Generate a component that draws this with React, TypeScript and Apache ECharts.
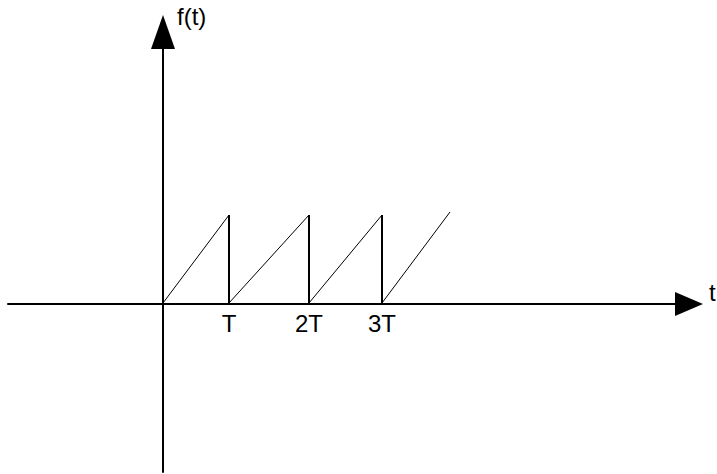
import React, { useEffect, useRef } from "react";
import * as echarts from "echarts";

// Sawtooth f(t): rising ramps and vertical drops (t in drawing units, origin at t=0)
const rampT = [0, 66, null, 66, 146, null, 146, 219, null, 219, 287];
const rampF = [0, 88, null, 0, 88, null, 0, 88, null, 0, 91];
const dropT = [66, 66, null, 146, 146, null, 219, 219];
const dropF = [88, 0, null, 88, 0, null, 88, 0];

// Tick positions on the t axis and their labels
const tickValues = [66, 146, 219];
const tickLabels = ["T", "2T", "3T"];

const FONT = "'Liberation Sans', Arial, sans-serif";

const toData = (xs: (number | null)[], ys: (number | null)[]) =>
  xs.map((x, i) => (x === null || ys[i] === null ? [x ?? "-", "-"] : [x, ys[i]]));

export default function App() {
  const ref = useRef<HTMLDivElement>(null);
  useEffect(() => {
    if (!ref.current) return;
    const chart = echarts.init(ref.current, null, { renderer: "svg" });
    chart.setOption({
      animation: false,
      backgroundColor: "#ffffff",
      grid: { left: 8, right: 28, top: 32, bottom: 2 },
      xAxis: {
        type: "value",
        min: -155,
        max: 526,
        position: "bottom",
        offset: -168,
        splitLine: { show: false },
        axisTick: { show: false },
        axisLine: {
          show: true,
          onZero: false,
          symbol: ["none", "triangle"],
          symbolSize: [24, 28],
          lineStyle: { color: "#000", width: 2 },
        },
        axisLabel: {
          show: true,
          customValues: tickValues,
          margin: 7,
          color: "#000",
          fontFamily: FONT,
          fontSize: 24,
          formatter: (v: number) => {
            const i = tickValues.indexOf(v);
            return i >= 0 ? tickLabels[i] : "";
          },
        },
      },
      yAxis: {
        type: "value",
        min: -169,
        max: 271,
        splitLine: { show: false },
        axisTick: { show: false },
        axisLabel: { show: false },
        axisLine: {
          show: true,
          onZero: true,
          symbol: ["none", "triangle"],
          symbolSize: [24, 34],
          lineStyle: { color: "#000", width: 2 },
        },
      },
      graphic: [
        {
          type: "text",
          left: 177,
          top: 4,
          style: { text: "f(t)", fill: "#000", font: `24px ${FONT}` },
        },
        {
          type: "text",
          left: 709,
          top: 280,
          style: { text: "t", fill: "#000", font: `24px ${FONT}` },
        },
      ],
      series: [
        {
          type: "line",
          data: toData(rampT, rampF),
          showSymbol: false,
          connectNulls: false,
          lineStyle: { color: "#000", width: 1 },
        },
        {
          type: "line",
          data: toData(dropT, dropF),
          showSymbol: false,
          connectNulls: false,
          lineStyle: { color: "#000", width: 2 },
        },
      ],
    });
    return () => chart.dispose();
  }, []);
  return (
    <div
      ref={ref}
      style={{ position: "fixed", left: 0, top: 0, width: 717, height: 474, background: "#fff" }}
    />
  );
}
